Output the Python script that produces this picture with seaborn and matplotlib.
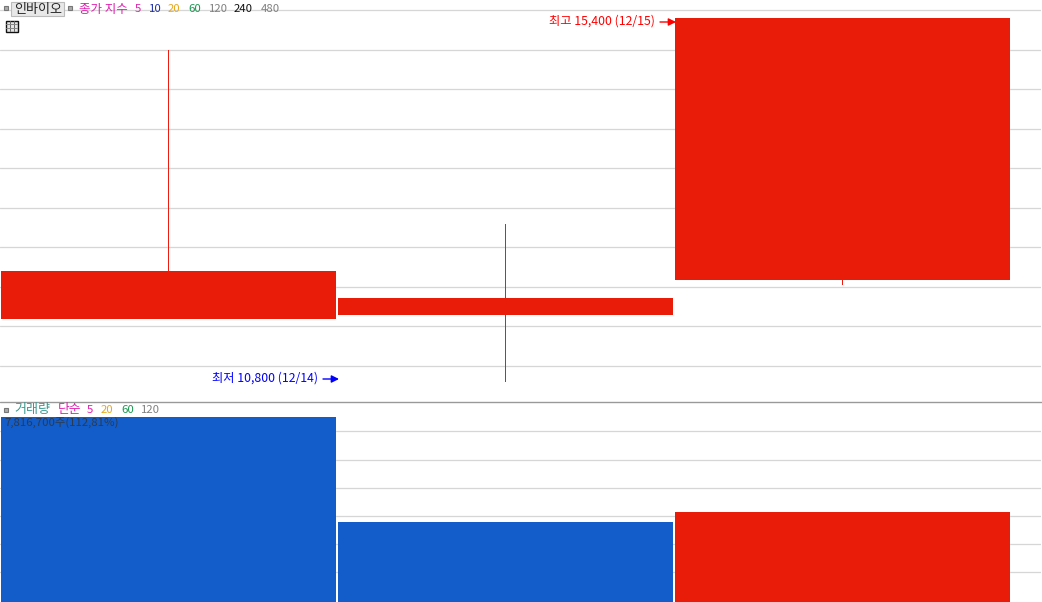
import seaborn as sns
import matplotlib.pyplot as plt
from matplotlib.patches import Rectangle

days = ["12/14", "12/15a", "12/15b"]
opens = [11590, 11640, 12085]
closes = [12200, 11855, 15400]
highs = [15000, 12800, 15400]
lows = [11600, 10800, 12035]
volumes = [7816700, 3390000, 3820000]
price_grid = [11000, 11500, 12000, 12500, 13000, 13500, 14000, 14500, 15000, 15500]
volume_grid = [1255000, 2445000, 3635000, 4825000, 6015000, 7205000]

RED = "#E91C0A"
BLUE = "#125DC9"
MAGENTA = "#E01FB0"
ORANGE = "#E8A81C"
GREEN = "#1A9850"
GRAY = "#808080"

W, H = 1042, 602

sns.set_theme(style="white")
plt.rcParams["font.family"] = ["Noto Sans CJK KR", "DejaVu Sans"]
plt.rcParams["axes.unicode_minus"] = False

fig = plt.figure(figsize=(W / 100, H / 100), dpi=100, facecolor="white")

# x range shared by both panels, one candle is 337 px wide
x_left = -0.5 + 0.3 / 337
x_right = x_left + 1041 / 337


def axes_px(top, bottom):
    return fig.add_axes([0, 1 - bottom / H, 1041 / W, (bottom - top) / H])


def label(x, y, s, color, size=8.2, **kw):
    # x is the left edge and y the vertical centre, both in image pixels
    fig.text(x / W, 1 - y / H, s, color=color, fontsize=size, va="center", ha="left", zorder=10, **kw)


def box(x, y, w, h, face, edge, lw=0.8, z=9):
    fig.add_artist(Rectangle((x / W, 1 - (y + h) / H), w / W, h / H, transform=fig.transFigure,
                             facecolor=face, edgecolor=edge, linewidth=lw, zorder=z))


# price panel
ax = axes_px(0, 401)
body = [c - o for o, c in zip(opens, closes)]
sns.barplot(x=days, y=body, bottom=opens, color=RED, saturation=1, width=335 / 337,
            linewidth=0, ax=ax, zorder=3)
# wicks sit under the bodies
ax.vlines(range(3), lows, highs, colors="#EE1C10", linewidth=0.72, zorder=2, antialiased=False)
ax.set_yticks(price_grid)
ax.set_xlim(x_left, x_right)
ax.set_ylim(10551, 15633)
ax.grid(axis="y", color="#D6D6D6", linewidth=0.9)
ax.set_axisbelow(True)

# volume panel
ax2 = axes_px(402, 602)
sns.barplot(x=days, y=volumes, hue=days, palette=[BLUE, BLUE, RED], saturation=1, width=335 / 337,
            linewidth=0, legend=False, ax=ax2, zorder=3)
ax2.set_yticks(volume_grid)
ax2.set_xlim(x_left, x_right)
ax2.set_ylim(0, 7816700 * 200 / 185)
ax2.grid(axis="y", color="#D6D6D6", linewidth=0.9)
ax2.set_axisbelow(True)

for a in (ax, ax2):
    a.set_xlabel("")
    a.set_ylabel("")
    a.tick_params(left=False, bottom=False, labelleft=False, labelbottom=False)
    a.patch.set_alpha(0)
    sns.despine(ax=a, left=True, bottom=True)

# panel separator
fig.add_artist(plt.Line2D([0, 1], [1 - 401.5 / H] * 2, color="#999999", linewidth=1, transform=fig.transFigure))

# top legend
box(3.5, 5.5, 4.5, 4.5, "#AAAAAA", "#777777")
box(10.5, 1.5, 53, 14.5, "#E8E8E8", "#BBBBBB")
label(14, 9, "인바이오", "#222222", size=9.4)
box(67.5, 5.5, 4.5, 4.5, "#AAAAAA", "#777777")
label(79, 9, "종가 지수", MAGENTA, size=9)
label(135, 9, "5", MAGENTA)
label(149, 9, "10", "#1C2FA8")
label(168, 9, "20", ORANGE)
label(188, 9, "60", GREEN)
label(209, 9, "120", GRAY)
label(234, 9, "240", "#111111")
label(261, 9, "480", GRAY)

# table icon
box(5.5, 20.5, 12, 11, "#E4E4E4", "#111111", lw=1, z=8)
for gx in (9.5, 13.5):
    fig.add_artist(plt.Line2D([gx / W] * 2, [1 - 21 / H, 1 - 31 / H], color="#666666", linewidth=0.7, zorder=9))
for gy in (24, 28):
    fig.add_artist(plt.Line2D([6 / W, 17 / W], [1 - gy / H] * 2, color="#888888", linewidth=0.7, zorder=9))

# high / low annotations
label(549, 21, "최고 15,400 (12/15)", "#FF0000", size=8.8)
label(212, 378.5, "최저 10,800 (12/14)", "#0000FF", size=8.8)
for x0, x1, y, col in [(660, 676, 22, "#FF0000"), (323, 339, 379, "#0000FF")]:
    fig.add_artist(plt.Annotation("", xy=(x1 / W, 1 - y / H), xytext=(x0 / W, 1 - y / H),
                                  xycoords="figure fraction", textcoords="figure fraction",
                                  arrowprops=dict(arrowstyle="-|>", color=col, lw=1, shrinkA=0, shrinkB=0,
                                                  mutation_scale=11)))

# volume legend
box(3.5, 407.5, 4.5, 4.5, "#AAAAAA", "#777777")
label(14, 410, "거래량", "#3A9A90", size=9.4)
label(58, 410, "단순", MAGENTA, size=9.2)
label(87, 410, "5", MAGENTA)
label(101, 410, "20", ORANGE)
label(121, 410, "60", GREEN)
label(141, 410, "120", GRAY)
label(4, 423, "7,816,700주(112,81%)", "#2C3A50")

plt.savefig("out.png", dpi=100)
